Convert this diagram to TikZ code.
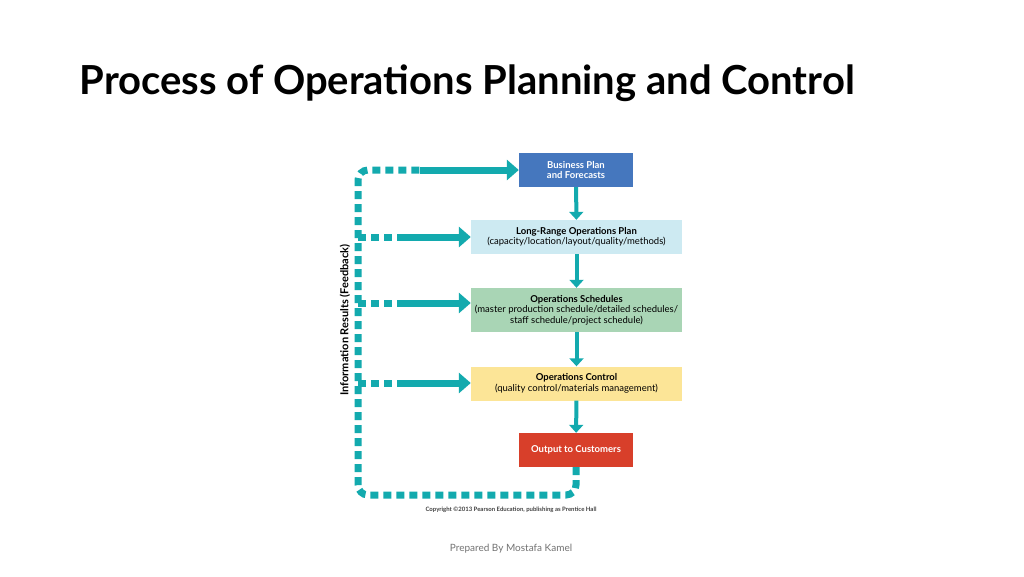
\documentclass[tikz,border=0pt]{standalone}
\usepackage{fontspec}
\setmainfont{Lato}
\usetikzlibrary{arrows.meta,positioning}
\definecolor{teal}{HTML}{13AAAE}
\definecolor{bizblue}{HTML}{4577BE}
\definecolor{planblue}{HTML}{CDEAF2}
\definecolor{schedgreen}{HTML}{A9D5B5}
\definecolor{ctrlyellow}{HTML}{FCE597}
\definecolor{outred}{HTML}{D83F2A}
\tikzset{
  stagebox/.style={rectangle, minimum height=34pt, inner sep=2pt, align=center, font=\fontsize{9.5}{10.5}\selectfont},
  smallbox/.style={stagebox, minimum width=114pt, text=white, font=\fontsize{9.5}{10}\selectfont\bfseries},
  widebox/.style={stagebox, minimum width=211pt},
  flow/.style={teal, line width=4pt, -{Triangle[length=8pt,width=14pt]}},
  feedback/.style={teal, line width=7pt, dash pattern=on 8pt off 5pt, rounded corners=10pt},
  feedhead/.style={teal, line width=7pt, -{Triangle[length=12pt,width=20pt]}}
}
\begin{document}
\begin{tikzpicture}[x=1pt,y=-1pt]
\useasboundingbox[fill=white] (0,0) rectangle (1024,576);
\node[anchor=west, font=\fontsize{40}{46}\selectfont\bfseries] (title) at (76,83) {Process of Operations Planning and Control};
% stages
\node[smallbox, fill=bizblue] (biz) at (576,170) {Business Plan\\and Forecasts};
\node[widebox, fill=planblue] (plan) at (576.5,237) {\textbf{Long-Range Operations Plan}\\(capacity/location/layout/quality/methods)};
\node[widebox, fill=schedgreen, minimum height=44pt] (sched) at (576.5,310) {\textbf{Operations Schedules}\\(master production schedule/detailed schedules/\\staff schedule/project schedule)};
\node[widebox, fill=ctrlyellow] (ctrl) at (576.5,383.5) {\textbf{Operations Control}\\(quality control/materials management)};
\node[smallbox, fill=outred] (out) at (576,450) {Output to Customers};
\draw[flow] (biz) -- (plan);
\draw[flow] (plan) -- (sched);
\draw[flow] (sched) -- (ctrl);
\draw[flow] (ctrl) -- (out);
% feedback loop
\coordinate (bend) at (358,495);
\coordinate (top) at (358,170);
\coordinate (tipbiz) at (420,170);
\draw[feedback] (out.south) -- (576,495) -- (bend) -- (top) -- (tipbiz);
\draw[feedhead] (tipbiz) -- (biz.west);
\foreach \tgt/\yy in {plan/237, sched/303, ctrl/383}{
  \draw[feedback] (358,\yy) -- (400,\yy);
  \draw[feedhead] (400,\yy) -- (\tgt.west |- 0,\yy);
}
\node[rotate=90, font=\fontsize{11}{12}\selectfont\bfseries] (info) at (345,320) {Information Results (Feedback)};
\node[font=\fontsize{6}{7}\selectfont\bfseries, text=black!75] (copy) at (511,510) {Copyright \textcopyright2013 Pearson Education, publishing as Prentice Hall};
\node[font=\fontsize{10}{12}\selectfont, text=black!55] (foot) at (511,549) {Prepared By Mostafa Kamel};
\end{tikzpicture}
\end{document}
